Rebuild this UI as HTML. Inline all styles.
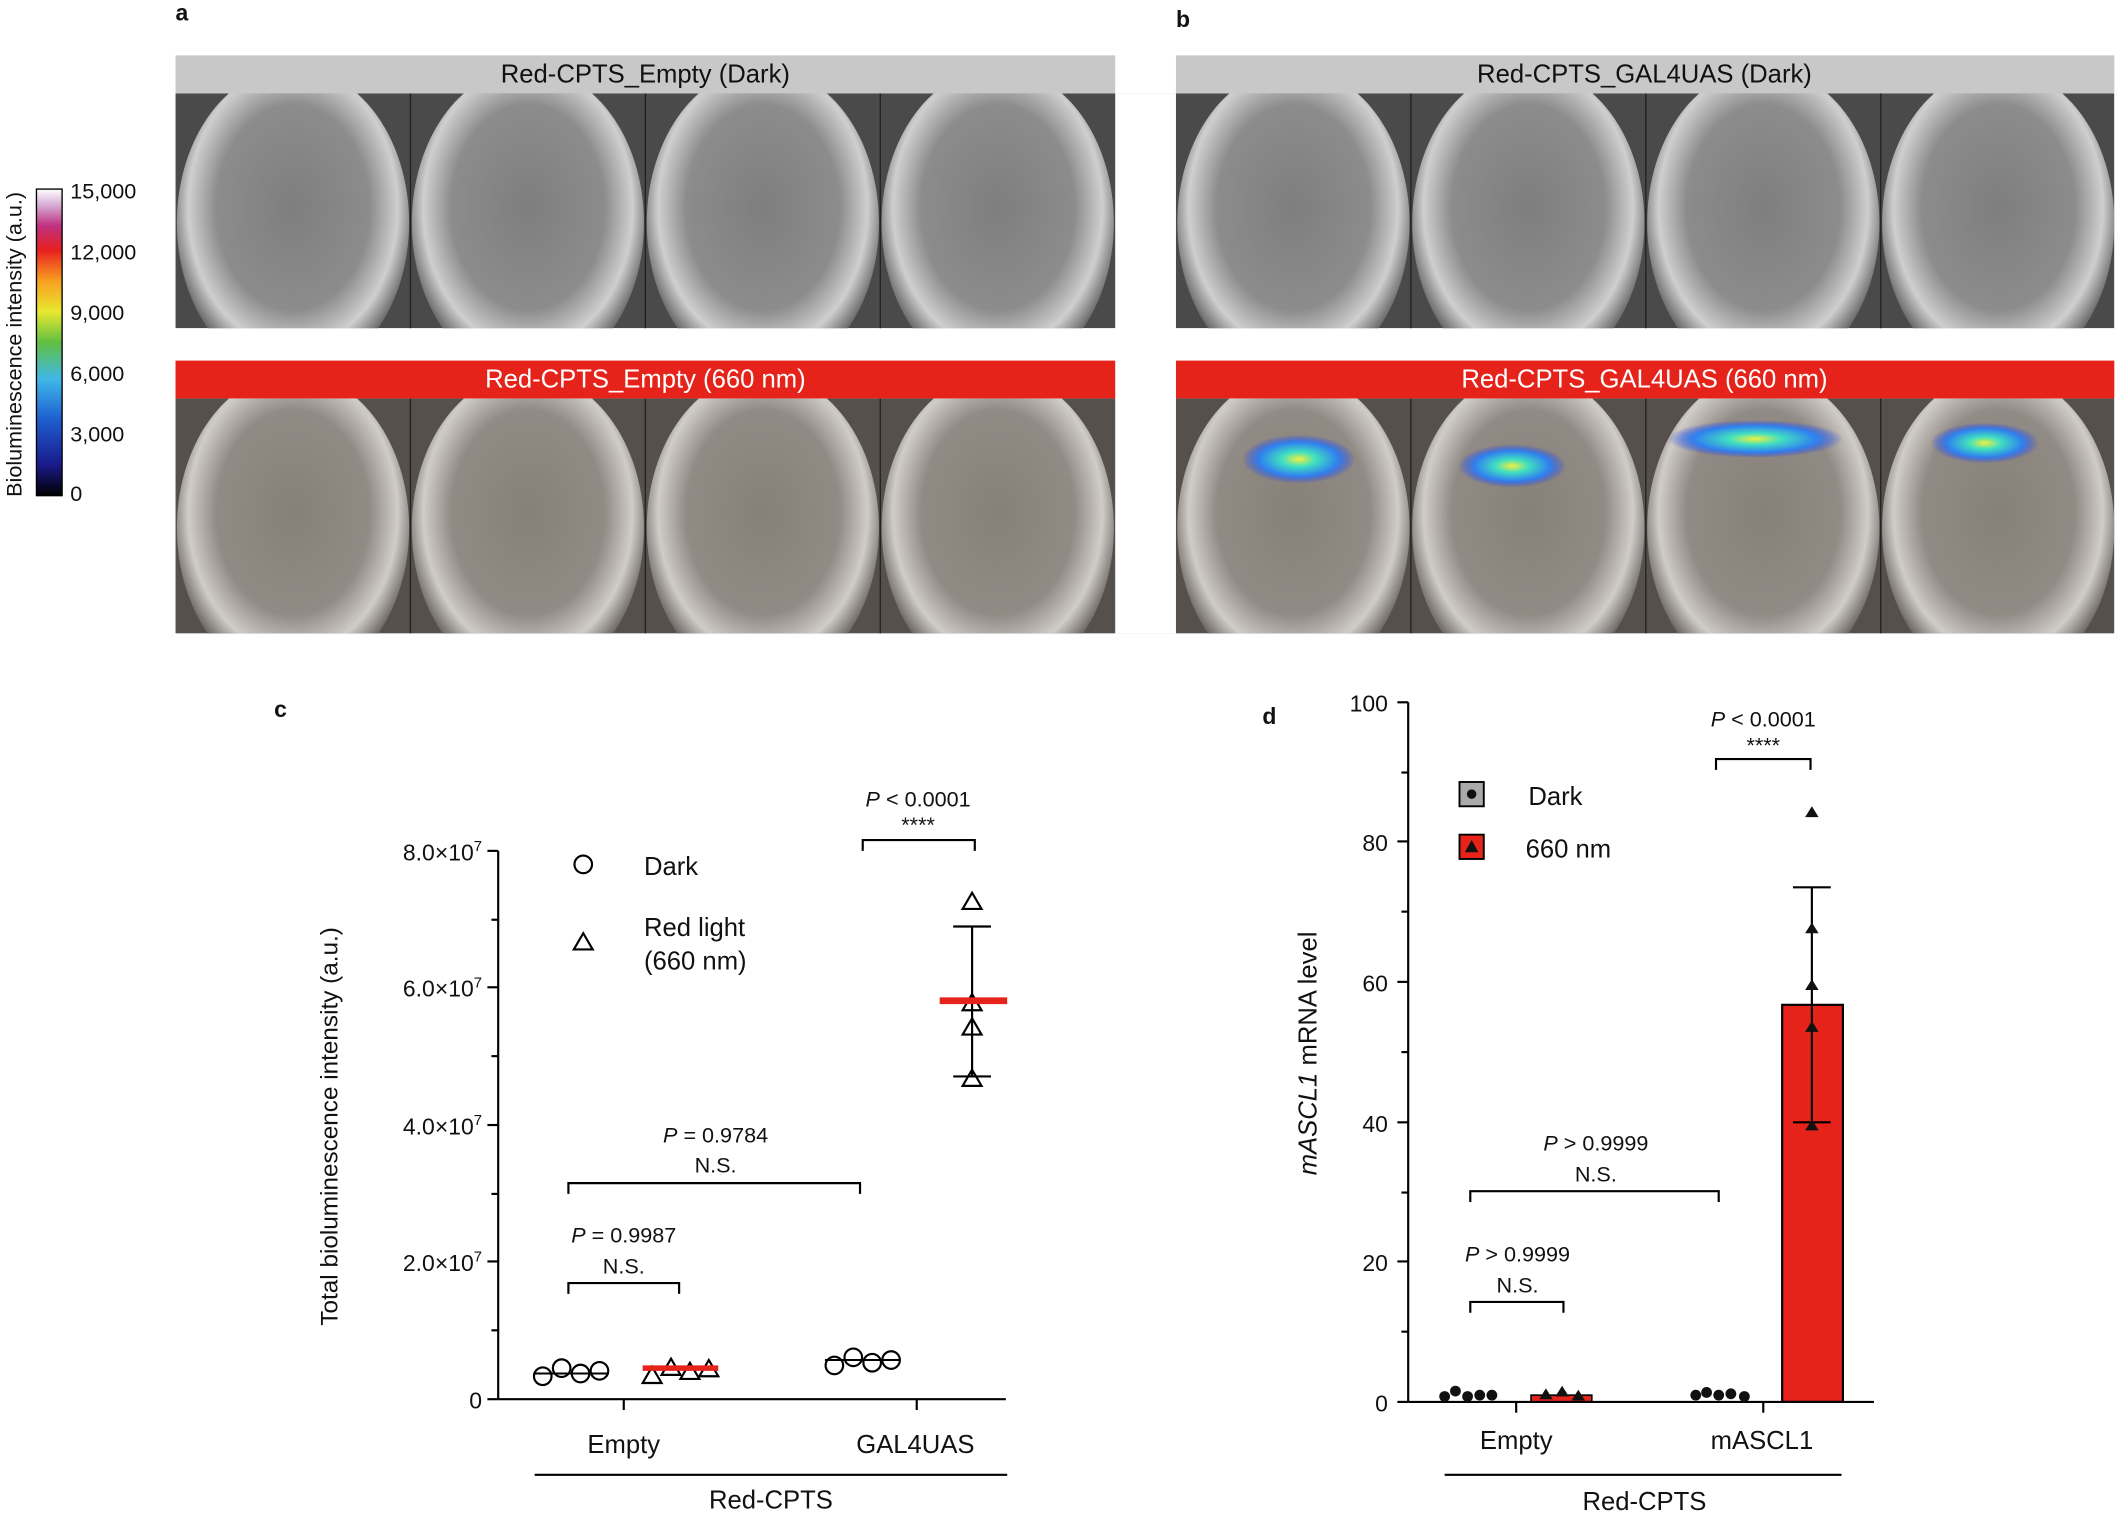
<!DOCTYPE html>
<html><head><meta charset="utf-8"><style>
html,body{margin:0;padding:0;background:#fff}
svg{display:block}
text{font-family:"Liberation Sans",Arial,sans-serif;fill:#111}
</style></head><body>
<svg width="2117" height="1514" viewBox="0 0 1568 1121" preserveAspectRatio="none" xmlns="http://www.w3.org/2000/svg">
<defs>
<radialGradient id="m" cx="50%" cy="45%" r="55%">
<stop offset="0" stop-color="#7e7e7e"/><stop offset="0.6" stop-color="#8c8c8c"/><stop offset="0.82" stop-color="#cfcfcf"/><stop offset="1" stop-color="#555"/>
</radialGradient>
<radialGradient id="m2" cx="50%" cy="45%" r="55%">
<stop offset="0" stop-color="#868079"/><stop offset="0.6" stop-color="#918b85"/><stop offset="0.82" stop-color="#d0ccc8"/><stop offset="1" stop-color="#5a5552"/>
</radialGradient>
<linearGradient id="cb" x1="0" y1="1" x2="0" y2="0">
<stop offset="0" stop-color="#000"/><stop offset="0.1" stop-color="#1a1a8a"/><stop offset="0.25" stop-color="#1e5fd0"/><stop offset="0.38" stop-color="#40b8e8"/><stop offset="0.5" stop-color="#60c040"/><stop offset="0.6" stop-color="#e8e830"/><stop offset="0.7" stop-color="#f8a020"/><stop offset="0.8" stop-color="#e82020"/><stop offset="0.88" stop-color="#c03080"/><stop offset="0.95" stop-color="#d8b0d8"/><stop offset="1" stop-color="#fff"/>
</linearGradient>
<radialGradient id="sig" cx="50%" cy="50%" r="50%">
<stop offset="0" stop-color="#f0f040"/><stop offset="0.3" stop-color="#40e0c0"/><stop offset="0.7" stop-color="#3080f0"/><stop offset="1" stop-color="#3040e0" stop-opacity="0"/>
</radialGradient>
<clipPath id="r1"><rect x="130" y="69" width="1436" height="174"/></clipPath>
<clipPath id="r2"><rect x="130" y="295" width="1436" height="174"/></clipPath>
</defs>
<text x="130" y="15" font-size="17" font-weight="bold">a</text>
<text x="871" y="20" font-size="17" font-weight="bold">b</text>
<!-- colorbar -->
<rect x="27" y="140" width="19" height="227" fill="url(#cb)" stroke="#000" stroke-width="1"/>
<g font-size="16"><text x="52" y="147">15,000</text><text x="52" y="192">12,000</text><text x="52" y="237">9,000</text><text x="52" y="282">6,000</text><text x="52" y="327">3,000</text><text x="52" y="371">0</text></g>
<text transform="translate(16,255) rotate(-90)" font-size="16" text-anchor="middle">Bioluminescence intensity (a.u.)</text>
<!-- images -->
<g clip-path="url(#r1)">
<rect x="130" y="69" width="1436" height="174" fill="#4a4a4a"/>
<g fill="url(#m)">
<ellipse cx="217" cy="165" rx="86" ry="115"/><ellipse cx="391" cy="165" rx="86" ry="115"/><ellipse cx="565" cy="165" rx="86" ry="115"/><ellipse cx="739" cy="165" rx="86" ry="115"/>
<ellipse cx="958" cy="165" rx="86" ry="115"/><ellipse cx="1132" cy="165" rx="86" ry="115"/><ellipse cx="1306" cy="165" rx="86" ry="115"/><ellipse cx="1480" cy="165" rx="86" ry="115"/>
</g>
</g>
<g clip-path="url(#r2)">
<rect x="130" y="295" width="1436" height="174" fill="#55504c"/>
<g fill="url(#m2)">
<ellipse cx="217" cy="391" rx="86" ry="115"/><ellipse cx="391" cy="391" rx="86" ry="115"/><ellipse cx="565" cy="391" rx="86" ry="115"/><ellipse cx="739" cy="391" rx="86" ry="115"/>
<ellipse cx="958" cy="391" rx="86" ry="115"/><ellipse cx="1132" cy="391" rx="86" ry="115"/><ellipse cx="1306" cy="391" rx="86" ry="115"/><ellipse cx="1480" cy="391" rx="86" ry="115"/>
</g>
<ellipse cx="962" cy="340" rx="42" ry="18" fill="url(#sig)"/>
<ellipse cx="1120" cy="345" rx="40" ry="16" fill="url(#sig)"/>
<ellipse cx="1300" cy="325" rx="65" ry="14" fill="url(#sig)"/>
<ellipse cx="1470" cy="328" rx="40" ry="15" fill="url(#sig)"/>
</g>
<rect x="826" y="69" width="45" height="400" fill="#fff"/>
<g stroke="#222" stroke-width="1"><line x1="304" y1="69" x2="304" y2="243"/><line x1="478" y1="69" x2="478" y2="243"/><line x1="652" y1="69" x2="652" y2="243"/><line x1="1045" y1="69" x2="1045" y2="243"/><line x1="1219" y1="69" x2="1219" y2="243"/><line x1="1393" y1="69" x2="1393" y2="243"/>
<line x1="304" y1="295" x2="304" y2="469"/><line x1="478" y1="295" x2="478" y2="469"/><line x1="652" y1="295" x2="652" y2="469"/><line x1="1045" y1="295" x2="1045" y2="469"/><line x1="1219" y1="295" x2="1219" y2="469"/><line x1="1393" y1="295" x2="1393" y2="469"/></g>
<rect x="130" y="41" width="696" height="28" fill="#c8c8c8"/>
<text x="478" y="61" font-size="19" text-anchor="middle">Red-CPTS_Empty (Dark)</text>
<rect x="130" y="267" width="696" height="28" fill="#e5231b"/>
<text x="478" y="287" font-size="19" text-anchor="middle" style="fill:#fff">Red-CPTS_Empty (660 nm)</text>
<rect x="871" y="41" width="695" height="28" fill="#c8c8c8"/>
<text x="1218" y="61" font-size="19" text-anchor="middle">Red-CPTS_GAL4UAS (Dark)</text>
<rect x="871" y="267" width="695" height="28" fill="#e5231b"/>
<text x="1218" y="287" font-size="19" text-anchor="middle" style="fill:#fff">Red-CPTS_GAL4UAS (660 nm)</text>
<!-- panel c -->
<text x="203" y="531" font-size="17" font-weight="bold">c</text>
<g stroke="#000" stroke-width="1.6" fill="none">
<line x1="369" y1="630" x2="369" y2="1036"/>
<line x1="361" y1="630" x2="369" y2="630"/><line x1="361" y1="731" x2="369" y2="731"/><line x1="361" y1="833" x2="369" y2="833"/><line x1="361" y1="934" x2="369" y2="934"/><line x1="361" y1="1036" x2="369" y2="1036"/>
<line x1="364" y1="681" x2="369" y2="681"/><line x1="364" y1="782" x2="369" y2="782"/><line x1="364" y1="884" x2="369" y2="884"/><line x1="364" y1="985" x2="369" y2="985"/>
<line x1="369" y1="1036" x2="745" y2="1036"/>
<line x1="462" y1="1036" x2="462" y2="1044"/><line x1="679" y1="1036" x2="679" y2="1044"/>
<line x1="396" y1="1092" x2="746" y2="1092"/>
<polyline points="639,630 639,622 722,622 722,630"/>
<polyline points="421,884 421,876 637,876 637,884"/>
<polyline points="421,958 421,950 503,950 503,958"/>
<line x1="720" y1="686" x2="720" y2="797"/><line x1="706" y1="686" x2="734" y2="686"/><line x1="706" y1="797" x2="734" y2="797"/>
<circle cx="402" cy="1019" r="6.5"/><circle cx="416" cy="1013" r="6.5"/><circle cx="430" cy="1017" r="6.5"/><circle cx="444" cy="1015" r="6.5"/>
<circle cx="618" cy="1011" r="6.5"/><circle cx="632" cy="1005" r="6.5"/><circle cx="646" cy="1009" r="6.5"/><circle cx="660" cy="1007" r="6.5"/>
<circle cx="432" cy="640" r="6.5"/>
<polygon points="483,1012 490,1024 476,1024"/>
<polygon points="497,1006 504,1018 490,1018"/><polygon points="511,1009 518,1021 504,1021"/><polygon points="525,1007 532,1019 518,1019"/>
<polygon points="720,661 727,673 713,673"/><polygon points="720,736 727,748 713,748"/><polygon points="720,754 727,766 713,766"/><polygon points="720,792 727,804 713,804"/>
<polygon points="432,691 439,703 425,703"/>
</g>
<line x1="476" y1="1013" x2="532" y2="1013" stroke="#e5231b" stroke-width="4"/>
<line x1="696" y1="741" x2="746" y2="741" stroke="#e5231b" stroke-width="5"/>
<line x1="611" y1="1007" x2="667" y2="1007" stroke="#000" stroke-width="1.5"/>
<line x1="395" y1="1017" x2="451" y2="1017" stroke="#000" stroke-width="1.5"/>
<g font-size="17" text-anchor="end"><text x="357" y="637">8.0×10<tspan dy="-7" font-size="11">7</tspan></text><text x="357" y="738">6.0×10<tspan dy="-7" font-size="11">7</tspan></text><text x="357" y="840">4.0×10<tspan dy="-7" font-size="11">7</tspan></text><text x="357" y="941">2.0×10<tspan dy="-7" font-size="11">7</tspan></text><text x="357" y="1043">0</text></g>
<text transform="translate(250,834) rotate(-90)" font-size="18" text-anchor="middle">Total bioluminescence intensity (a.u.)</text>
<g font-size="19" text-anchor="middle"><text x="462" y="1076">Empty</text><text x="678" y="1076">GAL4UAS</text><text x="571" y="1117">Red-CPTS</text></g>
<g font-size="19"><text x="477" y="648">Dark</text><text x="477" y="693">Red light</text><text x="477" y="718">(660 nm)</text></g>
<g font-size="16" text-anchor="middle"><text x="680" y="597"><tspan font-style="italic">P</tspan> &lt; 0.0001</text><text x="680" y="616">****</text>
<text x="530" y="846"><tspan font-style="italic">P</tspan> = 0.9784</text><text x="530" y="868">N.S.</text>
<text x="462" y="920"><tspan font-style="italic">P</tspan> = 0.9987</text><text x="462" y="943">N.S.</text></g>
<!-- panel d -->
<text x="935" y="536" font-size="17" font-weight="bold">d</text>
<rect x="1320" y="744" width="45" height="294" fill="#e5231b" stroke="#000" stroke-width="1.6"/>
<rect x="1134" y="1033" width="45" height="5" fill="#e5231b" stroke="#000" stroke-width="1.2"/>
<g stroke="#000" stroke-width="1.6" fill="none">
<line x1="1043" y1="520" x2="1043" y2="1038"/>
<line x1="1035" y1="520" x2="1043" y2="520"/><line x1="1035" y1="623" x2="1043" y2="623"/><line x1="1035" y1="727" x2="1043" y2="727"/><line x1="1035" y1="831" x2="1043" y2="831"/><line x1="1035" y1="934" x2="1043" y2="934"/><line x1="1035" y1="1038" x2="1043" y2="1038"/>
<line x1="1038" y1="572" x2="1043" y2="572"/><line x1="1038" y1="675" x2="1043" y2="675"/><line x1="1038" y1="779" x2="1043" y2="779"/><line x1="1038" y1="883" x2="1043" y2="883"/><line x1="1038" y1="986" x2="1043" y2="986"/>
<line x1="1043" y1="1038" x2="1388" y2="1038"/>
<line x1="1123" y1="1038" x2="1123" y2="1046"/><line x1="1306" y1="1038" x2="1306" y2="1046"/>
<line x1="1070" y1="1092" x2="1364" y2="1092"/>
<polyline points="1271,570 1271,562 1341,562 1341,570"/>
<polyline points="1089,890 1089,882 1273,882 1273,890"/>
<polyline points="1089,972 1089,964 1158,964 1158,972"/>
<line x1="1342" y1="657" x2="1342" y2="831"/><line x1="1328" y1="657" x2="1356" y2="657"/><line x1="1328" y1="831" x2="1356" y2="831"/>
</g>
<g fill="#111">
<circle cx="1070" cy="1034" r="4"/><circle cx="1078" cy="1030" r="4"/><circle cx="1087" cy="1034" r="4"/><circle cx="1096" cy="1033" r="4"/><circle cx="1105" cy="1033" r="4"/>
<circle cx="1256" cy="1033" r="4"/><circle cx="1264" cy="1031" r="4"/><circle cx="1273" cy="1033" r="4"/><circle cx="1282" cy="1032" r="4"/><circle cx="1292" cy="1034" r="4"/>
<polygon points="1145,1028 1150,1036 1140,1036"/><polygon points="1157,1026 1162,1034 1152,1034"/><polygon points="1169,1029 1174,1037 1164,1037"/>
<polygon points="1342,597 1347,605 1337,605"/><polygon points="1342,683 1347,691 1337,691"/><polygon points="1342,725 1347,733 1337,733"/><polygon points="1342,756 1347,764 1337,764"/><polygon points="1342,829 1347,837 1337,837"/>
</g>
<rect x="1081" y="579" width="18" height="18" fill="#aaa" stroke="#000" stroke-width="1.4"/><circle cx="1090" cy="588" r="3.5" fill="#111"/>
<rect x="1081" y="618" width="18" height="18" fill="#e5231b" stroke="#000" stroke-width="1.4"/><polygon points="1090,622 1095,631 1085,631" fill="#111"/>
<g font-size="19"><text x="1132" y="596">Dark</text><text x="1130" y="635">660 nm</text></g>
<g font-size="17" text-anchor="end"><text x="1028" y="527">100</text><text x="1028" y="630">80</text><text x="1028" y="734">60</text><text x="1028" y="838">40</text><text x="1028" y="941">20</text><text x="1028" y="1045">0</text></g>
<text transform="translate(975,780) rotate(-90)" font-size="19" text-anchor="middle"><tspan font-style="italic">mASCL1</tspan>  mRNA level</text>
<g font-size="19" text-anchor="middle"><text x="1123" y="1073">Empty</text><text x="1305" y="1073">mASCL1</text><text x="1218" y="1118">Red-CPTS</text></g>
<g font-size="16" text-anchor="middle"><text x="1306" y="538"><tspan font-style="italic">P</tspan> &lt; 0.0001</text><text x="1306" y="557">****</text>
<text x="1182" y="852"><tspan font-style="italic">P</tspan> &gt; 0.9999</text><text x="1182" y="875">N.S.</text>
<text x="1124" y="934"><tspan font-style="italic">P</tspan> &gt; 0.9999</text><text x="1124" y="957">N.S.</text></g>
</svg>
</body></html>
